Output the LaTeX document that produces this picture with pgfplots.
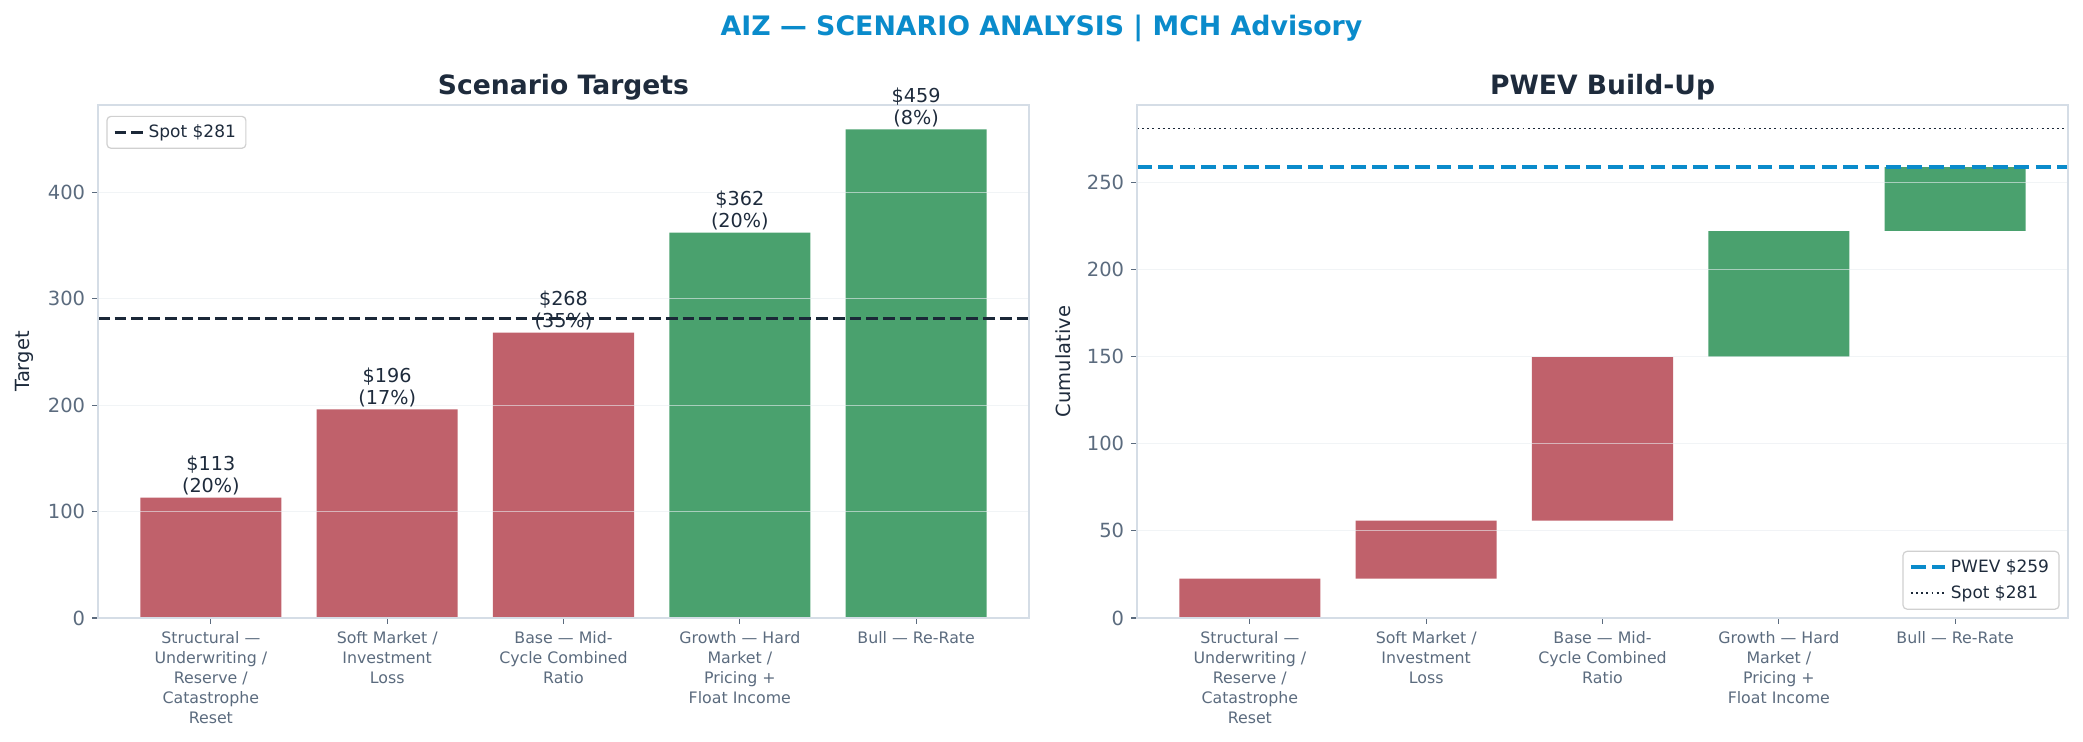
\documentclass[border=0pt]{standalone}
\usepackage{fontspec}
\setmainfont{DejaVu Sans}
\usepackage{pgfplots}
\pgfplotsset{compat=1.18}

\definecolor{bred}{HTML}{C0616B}
\definecolor{bgreen}{HTML}{4AA16E}
\definecolor{spotc}{HTML}{1B2838}
\definecolor{pwevc}{HTML}{0A8BCB}
\definecolor{darktext}{HTML}{1E2B3C}
\definecolor{tickgray}{HTML}{5B6B7E}
\definecolor{framec}{HTML}{D5DDE6}
\definecolor{gridc}{HTML}{E8ECF0}
\definecolor{legc}{HTML}{D0D0D0}

\pgfplotsset{
  panel/.style={
    scale only axis, anchor=south west,
    width=465.5pt, height=256.5pt,
    xmin=-0.64, xmax=4.64, ymin=0,
    xtick={0,1,2,3,4},
    xticklabels={{Structural —\\Underwriting /\\Reserve /\\Catastrophe\\Reset},
                 {Soft Market /\\Investment\\Loss},
                 {Base — Mid-\\Cycle Combined\\Ratio},
                 {Growth — Hard\\Market /\\Pricing +\\Float Income},
                 {Bull — Re-Rate}},
    axis line style={draw=framec, line width=0.6pt},
    tick align=outside, tick pos=left,
    major tick length=2.9pt,
    every tick/.style={draw=tickgray, line width=0.6pt},
    ymajorgrids, axis on top,
    grid style={draw=gridc, line width=0.6pt, opacity=0.6},
    yticklabel style={font=\fontsize{9.75}{11}\selectfont, text=tickgray,
      /pgf/number format/assume math mode=true},
    xticklabel style={font=\fontsize{7.9}{9.95}\selectfont, text=tickgray,
      align=center, anchor=north, yshift=-0.5pt},
    ylabel style={font=\fontsize{9.75}{11}\selectfont, text=darktext,
      at={(axis description cs:-0.0795,0.5)}, anchor=center},
    every axis title shift=0pt,
    title style={font=\fontsize{13.3}{15}\selectfont\bfseries, text=darktext,
      at={(0.5,1)}, anchor=base, yshift=5.4pt},
    legend cell align=left,
    legend image code/.code={\draw[##1] (0pt,0pt) -- (14.2pt,0pt);},
    legend style={font=\fontsize{8.5}{10}\selectfont, text=darktext,
      draw=legc, line width=0.6pt, rounded corners=2pt, fill=white,
      inner xsep=3pt, inner ysep=2pt, row sep=1pt},
  },
  bars/.style={ybar, bar width=0.8, bar shift=0pt, draw=none, forget plot},
}

\begin{document}
\begin{tikzpicture}[x=1pt,y=1pt]
\path[use as bounding box] (0,0) rectangle (1041.5,371);
\node[anchor=base, inner sep=0pt, text=pwevc,
  font=\fontsize{13.4}{16}\selectfont\bfseries] at (520.75,353)
  {AIZ — SCENARIO ANALYSIS | MCH Advisory};

% left panel: scenario targets
\begin{axis}[panel, at={(49pt,62pt)},
  ymax=481.95, ytick={0,100,200,300,400},
  title={Scenario Targets}, ylabel={Target},
  legend style={at={(0.009,0.979)}, anchor=north west},
  nodes near coords,
  every node near coord/.append style={font=\fontsize{9.6}{10.9}\selectfont,
    text=darktext, align=center, inner sep=1pt},
]
\addplot[bars, fill=bred, point meta=explicit symbolic] coordinates {
  (0,113) [\$113\\(20\%)]
  (1,196) [\$196\\(17\%)]
  (2,268) [\$268\\(35\%)]
};
\addplot[bars, fill=bgreen, point meta=explicit symbolic] coordinates {
  (3,362) [\$362\\(20\%)]
  (4,459) [\$459\\(8\%)]
};
\addplot[spotc, line width=1.6pt, dash pattern=on 5.85pt off 2.5pt,
  nodes near coords={}] coordinates {(-0.64,281) (4.64,281)};
\addlegendentry{Spot \$281}
\end{axis}

% right panel: probability-weighted build-up
\begin{axis}[panel, at={(568.5pt,62pt)},
  ymax=294.5, ytick={0,50,100,150,200,250},
  title={PWEV Build-Up}, ylabel={Cumulative},
  legend style={at={(0.991,0.016)}, anchor=south east},
  legend image code/.code={\draw[#1] (0pt,0pt) -- (17pt,0pt);},
]
% bar tops (cumulative after each scenario)
\addplot[bars, fill=bred] coordinates {(0,22.6) (1,55.92) (2,149.72)};
\addplot[bars, fill=bgreen] coordinates {(3,222.12) (4,258.84)};
% bar bottoms (cumulative before each scenario), masked in white
\addplot[bars, bar width=0.84, fill=white]
  coordinates {(0,0) (1,22.6) (2,55.92) (3,149.72) (4,222.12)};
\addplot[pwevc, line width=1.95pt, dash pattern=on 7.4pt off 3.3pt]
  coordinates {(-0.64,258.84) (4.64,258.84)};
\addlegendentry{PWEV \$259}
\addplot[spotc, line width=0.97pt, dash pattern=on 0.97pt off 1.6pt]
  coordinates {(-0.64,281) (4.64,281)};
\addlegendentry{Spot \$281}
\end{axis}
\end{tikzpicture}
\end{document}
